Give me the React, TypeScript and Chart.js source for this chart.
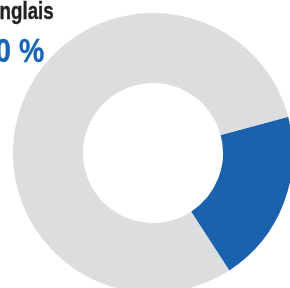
import React, { useEffect, useRef } from "react";
import { Chart, registerables } from "chart.js";

Chart.register(...registerables);

const labels = ["Anglais", "Autres"];
const values = [20, 80];
const colors = ["#1a61ae", "#dcdddf"];
const title = "Anglais";
const valueLabel = "20 %";

export default function App() {
  const ref = useRef<HTMLCanvasElement | null>(null);
  useEffect(() => {
    document.body.style.margin = "0";
    if (!ref.current) return;
    const chart = new Chart(ref.current, {
      type: "doughnut",
      data: {
        labels,
        datasets: [
          {
            data: values,
            backgroundColor: colors,
            borderWidth: 0,
          },
        ],
      },
      options: {
        animation: false,
        responsive: false,
        rotation: 75,
        cutout: "50%",
        layout: { padding: 0 },
        plugins: { legend: { display: false }, tooltip: { enabled: false } },
      },
    });
    return () => chart.destroy();
  }, []);

  const font = '"Liberation Sans", Arial, sans-serif';
  return (
    <div
      style={{
        position: "fixed",
        left: 0,
        top: 0,
        width: 290,
        height: 288,
        overflow: "hidden",
        background: "#ffffff",
      }}
    >
      <canvas
        ref={ref}
        width={280}
        height={280}
        style={{ position: "absolute", left: 13, top: 13, width: 280, height: 280 }}
      />
      <div
        style={{
          position: "absolute",
          right: 290 - 54,
          top: -1,
          fontFamily: font,
          fontWeight: 700,
          fontSize: 24,
          color: "#231f20",
          whiteSpace: "nowrap",
          lineHeight: 1,
          WebkitTextStroke: "0.4px #231f20",
          transform: "scaleX(0.78)",
          transformOrigin: "right center",
        }}
      >
        {title}
      </div>
      <div
        style={{
          position: "absolute",
          right: 290 - 44,
          top: 34,
          fontFamily: font,
          fontWeight: 700,
          fontSize: 33,
          color: "#1a64b4",
          whiteSpace: "nowrap",
          lineHeight: 1,
          WebkitTextStroke: "0.4px #1a64b4",
          transform: "scaleX(0.86)",
          transformOrigin: "right center",
        }}
      >
        {valueLabel}
      </div>
    </div>
  );
}
